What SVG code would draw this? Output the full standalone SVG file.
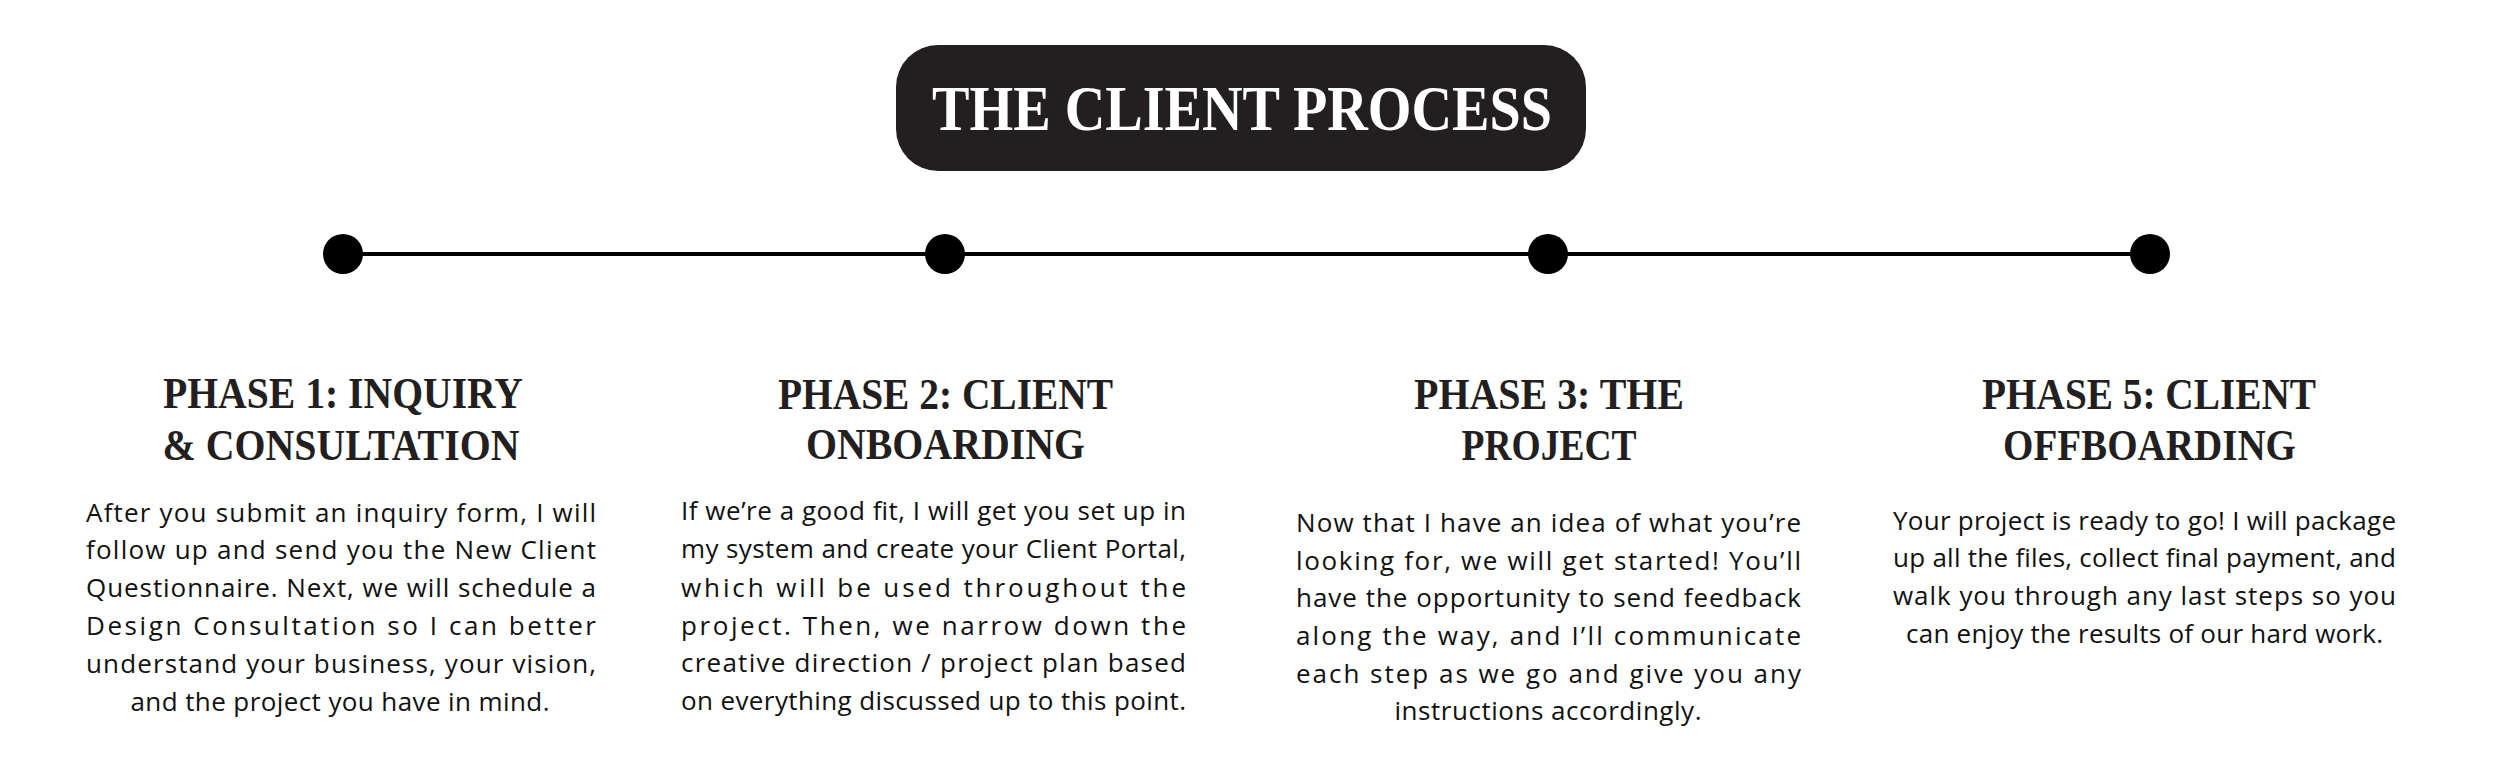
<svg xmlns="http://www.w3.org/2000/svg" width="2500" height="770" viewBox="0 0 2500 770">
<style>
.bg{fill:#ffffff}
.ttl{font-family:"Liberation Serif","Times New Roman",serif;font-weight:bold;font-size:64px;fill:#ffffff;text-anchor:middle}
.hd{font-family:"Liberation Serif","Times New Roman",serif;font-weight:bold;font-size:45px;fill:#231f20;text-anchor:middle}
.bd{font-family:"Open Sans","Liberation Sans",sans-serif;font-size:26px;fill:#111111}
.c{text-anchor:middle}
.dot{fill:#000000}
.tl{stroke:#000000;stroke-width:4;fill:none}
</style>
<rect class="bg" x="0" y="0" width="2500" height="770"/>
<g id="title">
<rect x="896" y="45" width="690" height="126" rx="42" ry="42" fill="#231f20"/>
<text class="ttl" x="1242" y="130" textLength="620" lengthAdjust="spacingAndGlyphs">THE CLIENT PROCESS</text>
</g>
<g id="connectors">
<line class="tl" x1="343" y1="254" x2="2150" y2="254"/>
</g>
<g id="dot1"><circle class="dot" cx="343" cy="254" r="20"/></g>
<g id="dot2"><circle class="dot" cx="945" cy="254" r="20"/></g>
<g id="dot3"><circle class="dot" cx="1548" cy="254" r="20"/></g>
<g id="dot4"><circle class="dot" cx="2150" cy="254" r="20"/></g>
<g id="phase1">
<text class="hd" x="343" y="408" textLength="360" lengthAdjust="spacingAndGlyphs">PHASE 1: INQUIRY</text>
<text class="hd" x="341" y="460" textLength="357" lengthAdjust="spacingAndGlyphs">&amp; CONSULTATION</text>
<text class="bd" x="86" y="522" textLength="510" lengthAdjust="spacing">After you submit an inquiry form, I will</text>
<text class="bd" x="86" y="559" textLength="510" lengthAdjust="spacing">follow up and send you the New Client</text>
<text class="bd" x="86" y="597" textLength="510" lengthAdjust="spacing">Questionnaire. Next, we will schedule a</text>
<text class="bd" x="86" y="635" textLength="510" lengthAdjust="spacing">Design Consultation so I can better</text>
<text class="bd" x="86" y="673" textLength="510" lengthAdjust="spacing">understand your business, your vision,</text>
<text class="bd c" x="340" y="711" textLength="419" lengthAdjust="spacing">and the project you have in mind.</text>
</g>
<g id="phase2">
<text class="hd" x="945.5" y="409" textLength="335" lengthAdjust="spacingAndGlyphs">PHASE 2: CLIENT</text>
<text class="hd" x="945.5" y="459" textLength="279" lengthAdjust="spacingAndGlyphs">ONBOARDING</text>
<text class="bd" x="681" y="520" textLength="505" lengthAdjust="spacing">If we’re a good fit, I will get you set up in</text>
<text class="bd" x="681" y="558" textLength="505" lengthAdjust="spacing">my system and create your Client Portal,</text>
<text class="bd" x="681" y="597" textLength="505" lengthAdjust="spacing">which will be used throughout the</text>
<text class="bd" x="681" y="635" textLength="505" lengthAdjust="spacing">project. Then, we narrow down the</text>
<text class="bd" x="681" y="672" textLength="505" lengthAdjust="spacing">creative direction / project plan based</text>
<text class="bd" x="681" y="710" textLength="505" lengthAdjust="spacing">on everything discussed up to this point.</text>
</g>
<g id="phase3">
<text class="hd" x="1549" y="409" textLength="270" lengthAdjust="spacingAndGlyphs">PHASE 3: THE</text>
<text class="hd" x="1549" y="460" textLength="175" lengthAdjust="spacingAndGlyphs">PROJECT</text>
<text class="bd" x="1296" y="532" textLength="505" lengthAdjust="spacing">Now that I have an idea of what you’re</text>
<text class="bd" x="1296" y="570" textLength="505" lengthAdjust="spacing">looking for, we will get started! You’ll</text>
<text class="bd" x="1296" y="607" textLength="505" lengthAdjust="spacing">have the opportunity to send feedback</text>
<text class="bd" x="1296" y="645" textLength="505" lengthAdjust="spacing">along the way, and I’ll communicate</text>
<text class="bd" x="1296" y="683" textLength="505" lengthAdjust="spacing">each step as we go and give you any</text>
<text class="bd c" x="1548" y="720" textLength="307" lengthAdjust="spacing">instructions accordingly.</text>
</g>
<g id="phase5">
<text class="hd" x="2149" y="409" textLength="334" lengthAdjust="spacingAndGlyphs">PHASE 5: CLIENT</text>
<text class="hd" x="2149.5" y="460" textLength="293" lengthAdjust="spacingAndGlyphs">OFFBOARDING</text>
<text class="bd" x="1893" y="530" textLength="503" lengthAdjust="spacing">Your project is ready to go! I will package</text>
<text class="bd" x="1893" y="567" textLength="503" lengthAdjust="spacing">up all the files, collect final payment, and</text>
<text class="bd" x="1893" y="605" textLength="503" lengthAdjust="spacing">walk you through any last steps so you</text>
<text class="bd c" x="2144.5" y="643" textLength="477" lengthAdjust="spacing">can enjoy the results of our hard work.</text>
</g>
</svg>
